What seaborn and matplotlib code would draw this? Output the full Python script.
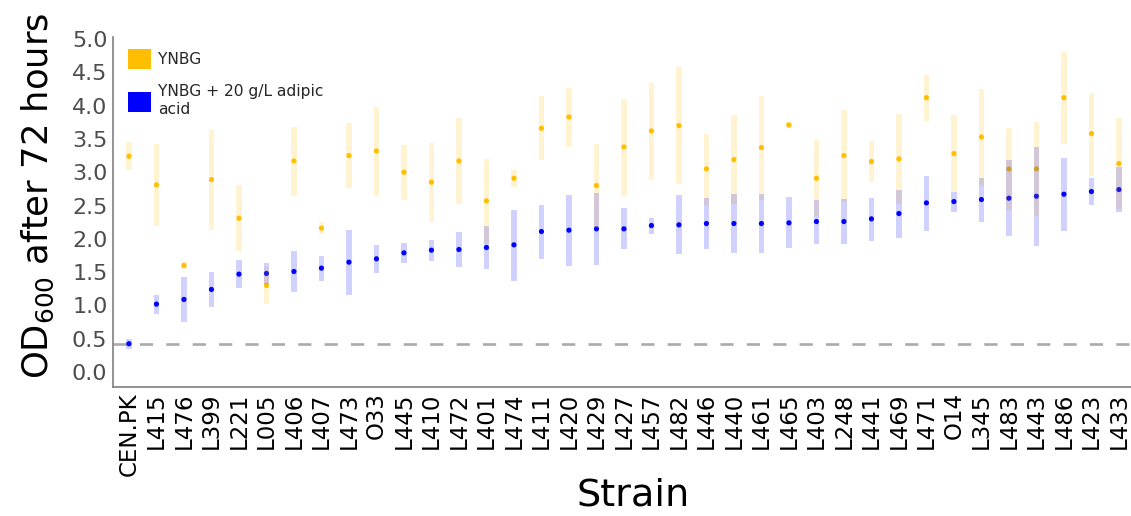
import numpy as np
import pandas as pd
import matplotlib
matplotlib.use("Agg")
import matplotlib.pyplot as plt
import seaborn as sns
from matplotlib.patches import Patch

# Strains, ordered by growth in the adipic-acid medium
strains = ["CEN.PK", "L415", "L476", "L399", "L221", "L005", "L406", "L407", "L473",
           "O33", "L445", "L410", "L472", "L401", "L474", "L411", "L420", "L429",
           "L427", "L457", "L482", "L446", "L440", "L461", "L465", "L403", "L248",
           "L441", "L469", "L471", "O14", "L345", "L483", "L443", "L486", "L423", "L433"]

# YNBG: mean OD600 and min/max of replicates
ynbg_mean = [3.24, 2.81, 1.60, 2.89, 2.31, 1.30, 3.17, 2.16, 3.25, 3.32, 3.00, 2.85, 3.17,
             2.57, 2.91, 3.66, 3.83, 2.80, 3.38, 3.62, 3.70, 3.05, 3.19, 3.37, 3.71, 2.91,
             3.25, 3.16, 3.20, 4.12, 3.28, 3.53, 3.05, 3.05, 4.12, 3.58, 3.13]
ynbg_low = [3.03, 2.19, 1.55, 2.13, 1.81, 1.02, 2.65, 2.07, 2.76, 2.64, 2.58, 2.25, 2.52,
            1.93, 2.78, 3.18, 3.38, 2.17, 2.65, 2.89, 2.82, 2.50, 2.52, 2.59, 3.66, 2.34,
            2.55, 2.85, 2.53, 3.77, 2.70, 2.80, 2.43, 2.35, 3.42, 2.95, 2.45]
ynbg_high = [3.45, 3.42, 1.66, 3.64, 2.81, 1.58, 3.68, 2.26, 3.74, 3.98, 3.41, 3.44, 3.82,
             3.20, 3.04, 4.14, 4.27, 3.43, 4.10, 4.34, 4.58, 3.58, 3.86, 4.14, 3.76, 3.48,
             3.94, 3.47, 3.87, 4.46, 3.86, 4.25, 3.66, 3.75, 4.81, 4.19, 3.81]

# YNBG + 20 g/L adipic acid
adip_mean = [0.425, 1.02, 1.09, 1.24, 1.47, 1.48, 1.51, 1.56, 1.65, 1.70, 1.79, 1.83, 1.84,
             1.87, 1.91, 2.11, 2.13, 2.15, 2.15, 2.20, 2.21, 2.23, 2.23, 2.23, 2.24, 2.26,
             2.26, 2.30, 2.38, 2.54, 2.56, 2.59, 2.61, 2.64, 2.67, 2.71, 2.74]
adip_low = [0.34, 0.87, 0.75, 0.97, 1.26, 1.32, 1.20, 1.36, 1.15, 1.48, 1.63, 1.66, 1.57,
            1.55, 1.37, 1.69, 1.59, 1.61, 1.84, 2.07, 1.77, 1.84, 1.79, 1.78, 1.86, 1.93,
            1.92, 1.97, 2.02, 2.12, 2.40, 2.25, 2.04, 1.90, 2.12, 2.51, 2.40]
adip_high = [0.50, 1.16, 1.43, 1.50, 1.68, 1.64, 1.81, 1.74, 2.14, 1.91, 1.94, 1.98, 2.11,
             2.20, 2.44, 2.51, 2.66, 2.69, 2.46, 2.32, 2.66, 2.61, 2.67, 2.68, 2.63, 2.59,
             2.60, 2.62, 2.73, 2.95, 2.70, 2.92, 3.18, 3.38, 3.21, 2.92, 3.08]

conditions = ["YNBG", "YNBG + 20 g/L adipic\nacid"]
colors = ["#FFBF00", "#0000FF"]
yticks = [0.0, 0.5, 1.0, 1.5, 2.0, 2.5, 3.0, 3.5, 4.0, 4.5, 5.0]

df = pd.concat([
    pd.DataFrame({"strain": strains, "condition": conditions[0],
                  "mean": ynbg_mean, "low": ynbg_low, "high": ynbg_high}),
    pd.DataFrame({"strain": strains, "condition": conditions[1],
                  "mean": adip_mean, "low": adip_low, "high": adip_high}),
], ignore_index=True)

sns.set_theme(style="white")
plt.rcParams["font.family"] = ["DejaVu Sans"]

fig = plt.figure(figsize=(11.31, 5.16), dpi=100)
ax = fig.add_axes([113 / 1131, 1 - 386.7 / 516, 1 - 113 / 1131, 350 / 516])

palette = dict(zip(conditions, colors))
sns.scatterplot(data=df, x="strain", y="mean", hue="condition", hue_order=conditions,
                palette=palette, s=14, linewidth=0, legend=False, zorder=1, ax=ax)

# min-max range of replicates as translucent bars
pos = np.arange(len(strains))
for cond, col in zip(conditions, colors):
    sub = df[df["condition"] == cond]
    ax.bar(pos, sub["high"].values - sub["low"].values, bottom=sub["low"].values,
           width=0.2, color=col, alpha=0.18, linewidth=0, zorder=2)

# reference level: parent strain in adipic acid
ax.axhline(adip_mean[0], color="#AAAAAA", lw=1.9, ls=(0, (5, 5)), zorder=0)

ax.set_xlim(-0.58, len(strains) - 0.56)
ax.set_ylim(-0.22, 5.035)
ax.set_yticks(yticks)
ax.set_yticklabels([f"{v:.1f}" for v in yticks])
ax.set_xticks(pos)
ax.set_xticklabels(strains, rotation=90)

for s in ["top", "right"]:
    ax.spines[s].set_visible(False)
for s in ["left", "bottom"]:
    ax.spines[s].set_color("#808080")
    ax.spines[s].set_linewidth(1.2)

ax.tick_params(axis="both", length=3, width=1, color="#808080", pad=1)
ax.tick_params(axis="y", labelsize=16, labelcolor="#4D4D4D")
ax.tick_params(axis="x", labelsize=16.5, labelcolor="black")

ax.set_xlabel("Strain", fontsize=27.5, color="black")
ax.set_ylabel("OD$_{600}$ after 72 hours", fontsize=25.5, color="black")
ax.xaxis.set_label_coords(0.511, -0.26)
ax.yaxis.set_label_coords(-0.056, 0.545)

handles = [Patch(facecolor=c, edgecolor="none") for c in colors]
ax.legend(handles, conditions, loc="upper left", bbox_to_anchor=(0.0147, 0.965),
          frameon=False, fontsize=11.2, handlelength=1.5, handleheight=1.6,
          handletextpad=0.45, labelspacing=1.0, borderpad=0, borderaxespad=0)

fig.savefig("out.png", dpi=100)
